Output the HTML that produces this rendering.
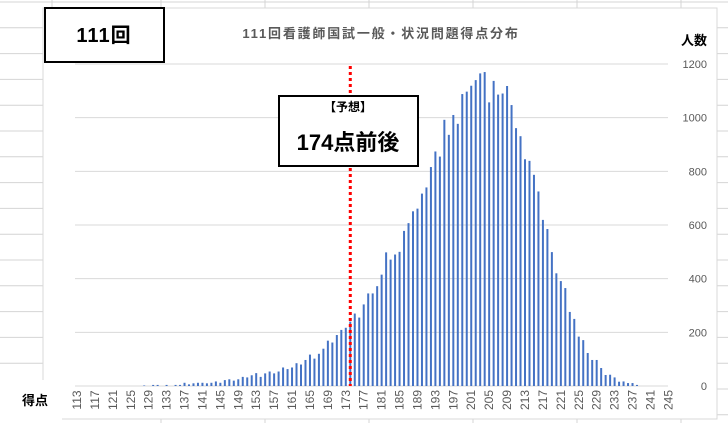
<!DOCTYPE html>
<html><head><meta charset="utf-8"><style>
body{margin:0;background:#fff;}
svg{display:block;font-family:"Liberation Sans","Noto Sans CJK JP",sans-serif;}
</style></head><body>
<svg id="c" width="728" height="423" viewBox="0 0 728 423">
<g id="sheet"></g>
<rect x="43" y="8" width="674" height="411" fill="#fff" stroke="#d9d9d9"/>
<rect x="0" y="380" width="62" height="43" fill="#fff"/>
<g id="grid"></g>
<g id="bars"></g>
<g id="xlab"></g>
<g id="ylab"></g>
<line id="pred" stroke="#ff0000" stroke-width="3" stroke-dasharray="3,3"/>
<text x="381" y="38" text-anchor="middle" font-size="13" font-weight="bold" fill="#595959" letter-spacing="1.8">111回看護師国試一般・状況問題得点分布</text>
<rect x="45" y="8" width="119" height="54" fill="#fff" stroke="#000" stroke-width="2"/>
<text x="104" y="42" text-anchor="middle" font-size="20" font-weight="bold" fill="#000" letter-spacing="1">111回</text>
<rect x="279" y="96" width="139" height="70" fill="#fff" stroke="#000" stroke-width="2"/>
<text x="348" y="111" text-anchor="middle" font-size="12" font-weight="bold" fill="#000">【予想】</text>
<text x="348" y="150" text-anchor="middle" font-size="22" font-weight="bold" fill="#000">174点前後</text>
<text x="694" y="45" text-anchor="middle" font-size="13" font-weight="bold" fill="#000">人数</text>
<text x="35" y="405" text-anchor="middle" font-size="13" font-weight="bold" fill="#000">得点</text>
</svg>
<script>
const scores = [];
for (let s = 113; s <= 245; s++) scores.push(s);
const counts = [
0,0,0,0,0,0,0,0,0,0,0,0,0,0,0,2,0,4,4,0,4,0,4,4,12,6,10,12,12,10,12,17,12,22,25,20,25,34,32,40,48,34,47,54,47,54,69,63,69,85,80,97,117,102,120,139,169,162,190,209,217,240,270,255,304,345,345,372,415,498,471,490,500,578,607,651,661,717,740,816,874,855,992,936,1010,977,1088,1097,1119,1140,1165,1170,1057,1137,1086,1090,1118,1047,961,931,845,839,787,725,619,585,499,420,391,365,276,250,184,171,123,97,97,67,41,42,32,16,17,11,11,4,0,0,0,0,0,0,0];
const yTicks = [0,200,400,600,800,1000,1200];
const xTickLabels = scores.filter(s => (s - 113) % 4 === 0);
const predictedScore = 174;

const NS = "http://www.w3.org/2000/svg";
function mk(tag, attrs, parent){const e=document.createElementNS(NS,tag);for(const k in attrs)e.setAttribute(k,attrs[k]);parent.appendChild(e);return e;}
const x = s => 77 + (s - 113) * 4.48;
const y = v => 386 - v * (322 / 1200);

const sheet = document.getElementById('sheet');
for (let ry = 2; ry < 423; ry += 25.8) {
  const l = mk('line', {x1:0, x2:728, y1:ry, y2:ry, stroke:'#d4d4d4', 'stroke-width':1}, sheet);
  
  
}
[52,161,265,369,473,577,681].forEach(cx => {
  const l = mk('line', {x1:cx, x2:cx, y1:0, y2:423, stroke:'#d4d4d4', 'stroke-width':1}, sheet);
  
  
});

const grid = document.getElementById('grid'), ylab = document.getElementById('ylab');
yTicks.forEach(t => {
  const g = mk('line', {x1:75, x2:668, y1:y(t), y2:y(t), stroke:'#d9d9d9', 'stroke-width':1}, grid);
  
  
  const tx = mk('text', {x:707, y:y(t)+4, 'text-anchor':'end', 'font-size':11, fill:'#595959'}, ylab);
  tx.textContent = t;
  
  
});

const bars = document.getElementById('bars');
scores.forEach((s, i) => {
  const v = counts[i];
  if (!v) return;
  const r = mk('rect', {x:x(s)-1, y:y(v), width:2, height:y(0)-y(v), fill:'#4472C4'}, bars);
  
  
});

const xlab = document.getElementById('xlab');
xTickLabels.forEach(s => {
  const t = mk('text', {x:0, y:0, 'text-anchor':'middle', 'font-size':12, fill:'#595959', transform:`translate(${x(s)+4},400) rotate(-90)`}, xlab);
  t.textContent = s;
  
  
});

const p = document.getElementById('pred');
p.setAttribute('x1', x(predictedScore)); p.setAttribute('x2', x(predictedScore));
p.setAttribute('y1', 66); p.setAttribute('y2', y(0));
</script>
</body></html>
